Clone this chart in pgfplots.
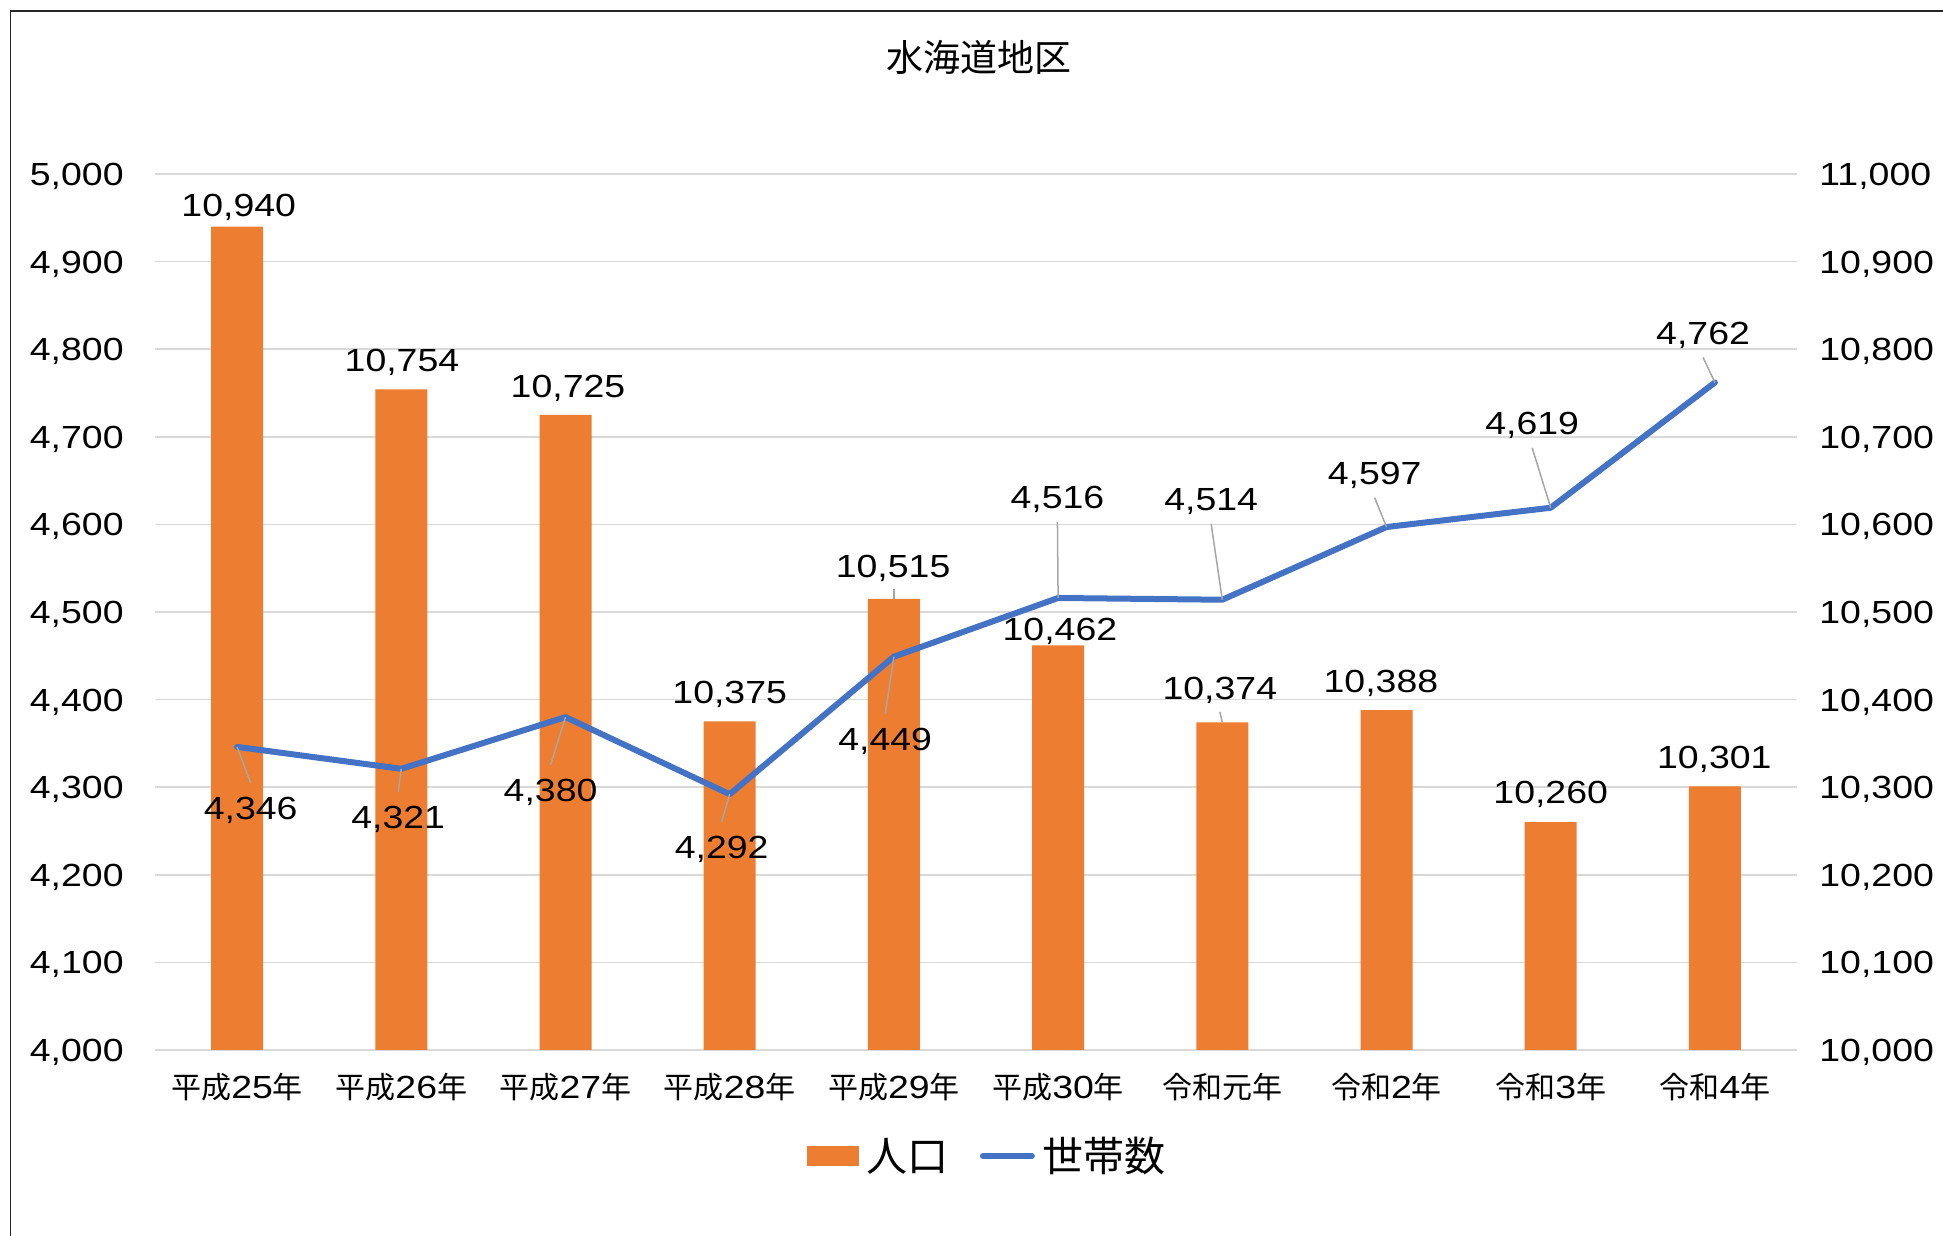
\documentclass[border=0pt]{standalone}
\usepackage{pgfplots}
\pgfplotsset{compat=1.18}
\usepackage{fontspec}
\setmainfont{Liberation Sans}[FakeStretch=1.17]
\newfontfamily\cjk{Noto Sans CJK JP}
\definecolor{barorange}{HTML}{ED7D31}
\definecolor{lineblue}{HTML}{4472C4}
\definecolor{gridgray}{HTML}{D9D9D9}
\definecolor{leadgray}{HTML}{A6A6A6}
\newcommand{\numfont}{\fontsize{16pt}{18pt}\selectfont}
\newcommand{\jk}[1]{{\cjk\fontsize{15pt}{17pt}\selectfont #1}}
\begin{document}
\begin{tikzpicture}[lab/.style={font=\numfont, inner sep=0pt, anchor=base, yshift=-5.73pt},
  lead/.style={draw=leadgray, line width=0.75pt}]
\useasboundingbox (-77.5pt,-93pt) rectangle (894pt,525pt);
\draw[line width=0.9pt, black!85] (-72.2pt,-100pt) -- (-72.2pt,519.3pt) -- (900pt,519.3pt);
% bars: population, right axis
\begin{axis}[
  at={(0pt,0pt)}, anchor=south west,
  width=821pt, height=438pt, scale only axis,
  xmin=-0.5, xmax=9.5, ymin=10000, ymax=11000,
  clip mode=individual,
  axis y line*=right, axis x line*=bottom,
  axis line style={draw=none}, tick style={draw=none}, major tick length=0pt,
  ytick={10000,10100,...,11000}, scaled y ticks=false,
  ymajorgrids, grid style={gridgray, line width=0.75pt},
  xtick={0,...,9},
  xticklabels={\jk{平成}25\jk{年},\jk{平成}26\jk{年},\jk{平成}27\jk{年},\jk{平成}28\jk{年},\jk{平成}29\jk{年},\jk{平成}30\jk{年},\jk{令和元年},\jk{令和}2\jk{年},\jk{令和}3\jk{年},\jk{令和}4\jk{年}},
  xticklabel style={font=\numfont, anchor=base, yshift=-24.2pt, inner sep=0pt},
  yticklabel style={font=\numfont, anchor=base west, xshift=11pt, yshift=-5.73pt, inner sep=0pt,
    /pgf/number format/1000 sep={,}, /pgf/number format/assume math mode=true},
]
\addplot[ybar, bar width=26pt, fill=barorange, draw=none] coordinates {
  (0,10940) (1,10754) (2,10725) (3,10375) (4,10515)
  (5,10462) (6,10374) (7,10388) (8,10260) (9,10301)};
\draw[lead] (axis cs:4,10515) -- (axis cs:4,10526);
\draw[lead] (axis cs:6,10374) -- (axis cs:5.985,10386);
\node[lab] at (axis cs:0.01,10964.6) {10,940};
\node[lab] at (axis cs:1.004,10787.8) {10,754};
\node[lab] at (axis cs:2.015,10758) {10,725};
\node[lab] at (axis cs:3.0,10408.8) {10,375};
\node[lab] at (axis cs:3.995,10553) {10,515};
\node[lab] at (axis cs:5.011,10481) {10,462};
\node[lab] at (axis cs:5.985,10413) {10,374};
\node[lab] at (axis cs:6.966,10421.5) {10,388};
\node[lab] at (axis cs:8.0,10294) {10,260};
\node[lab] at (axis cs:8.996,10334) {10,301};
\end{axis}
% line: households, left axis
\begin{axis}[
  at={(0pt,0pt)}, anchor=south west,
  width=821pt, height=438pt, scale only axis,
  xmin=-0.5, xmax=9.5, ymin=4000, ymax=5000,
  clip=false,
  axis y line*=left, axis x line*=bottom,
  axis line style={draw=none}, tick style={draw=none}, major tick length=0pt,
  xtick=\empty,
  ytick={4000,4100,...,5000}, scaled y ticks=false,
  yticklabel style={font=\numfont, anchor=base east, xshift=-15.5pt, yshift=-5.73pt, inner sep=0pt,
    /pgf/number format/1000 sep={,}, /pgf/number format/assume math mode=true},
  legend columns=2,
  legend style={at={(0.5064,-0.121)}, anchor=center, draw=none, fill=none,
    font=\cjk\fontsize{20.5pt}{22pt}\selectfont,
    nodes={inner sep=0pt},
    /tikz/every odd column/.append style={column sep=4pt},
    /tikz/every even column/.append style={column sep=15.5pt}},
]
\addlegendimage{legend image code/.code={\fill[barorange] (0pt,-4.75pt) rectangle (25.5pt,4.75pt);}}
\addlegendentry{人口}
\addplot[lineblue, line width=3pt, line join=round, line cap=round,
  legend image code/.code={\draw[lineblue, line width=3pt, line cap=round] (1pt,0pt) -- (25.5pt,0pt);}]
  coordinates {
  (0,4346) (1,4321) (2,4380) (3,4292) (4,4449)
  (5,4516) (6,4514) (7,4597) (8,4619) (9,4762)};
\addlegendentry{世帯数}
\draw[lead] (axis cs:0,4346) -- (axis cs:0.083,4304.5);
\draw[lead] (axis cs:1,4321) -- (axis cs:0.981,4294.5);
\draw[lead] (axis cs:2,4380) -- (axis cs:1.909,4325.5);
\draw[lead] (axis cs:3,4292) -- (axis cs:2.951,4260.5);
\draw[lead] (axis cs:4,4449) -- (axis cs:3.947,4383.5);
\draw[lead] (axis cs:5,4516) -- (axis cs:4.996,4602.5);
\draw[lead] (axis cs:6,4514) -- (axis cs:5.932,4600.5);
\draw[lead] (axis cs:7,4597) -- (axis cs:6.928,4630.5);
\draw[lead] (axis cs:8,4619) -- (axis cs:7.887,4687.5);
\draw[lead] (axis cs:9,4762) -- (axis cs:8.928,4790.5);
\node[lab] at (axis cs:0.083,4276) {4,346};
\node[lab] at (axis cs:0.981,4266) {4,321};
\node[lab] at (axis cs:1.909,4297) {4,380};
\node[lab] at (axis cs:2.951,4232) {4,292};
\node[lab] at (axis cs:3.947,4355) {4,449};
\node[lab] at (axis cs:4.996,4631) {4,516};
\node[lab] at (axis cs:5.932,4629) {4,514};
\node[lab] at (axis cs:6.928,4659) {4,597};
\node[lab] at (axis cs:7.887,4716) {4,619};
\node[lab] at (axis cs:8.928,4819) {4,762};
\end{axis}
\node[font=\cjk\fontsize{18.5pt}{20pt}\selectfont, anchor=center, inner sep=0pt] at (412pt,496.25pt) {水海道地区};
\end{tikzpicture}
\end{document}
